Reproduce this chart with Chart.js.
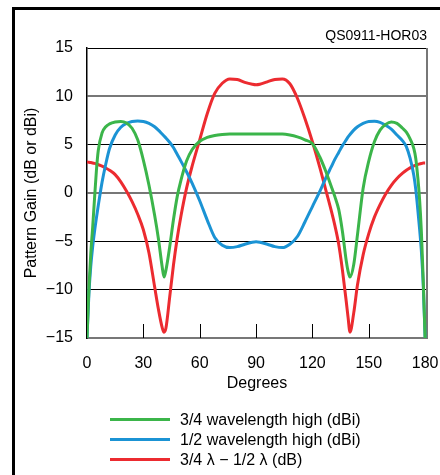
<!DOCTYPE html>
<html>
<head>
<meta charset="utf-8">
<script src="https://cdn.jsdelivr.net/npm/chart.js@4"></script>
<style>
  html, body { margin: 0; padding: 0; background: #fff; overflow: hidden; }
  #wrap { position: relative; width: 440px; height: 475px; }
  #frame { position: absolute; left: 12px; top: 7px; width: 470px; height: 500px; border: 3px solid #000; box-sizing: border-box; }
  canvas { position: absolute; left: 0; top: 0; }
</style>
</head>
<body>
<div id="wrap">
  <div id="frame"></div>
  <canvas id="chart" width="440" height="475"></canvas>
</div>
<script>
// elevation angle, degrees
const DEGREES = [
  0, 1, 2, 3, 4, 5, 6, 8, 10, 12, 15, 18, 21, 24, 27, 30, 33, 36, 38, 40, 41, 42, 44, 46, 48, 50,
  53, 56, 60, 64, 68, 72, 76, 80, 84, 88,
  90, 92, 96, 100, 104, 108, 112, 116, 120, 124,
  127, 130, 132, 134, 136, 138, 139, 140, 142, 144,
  147, 150, 153, 156, 159, 162, 165, 168, 170, 172,
  174, 175, 176, 177, 178, 179, 180,
];

// 3/4 wavelength high (dBi)
const GAIN_34 = [
  -15, -10, -6.3, -3.6, -0.6, 2.3, 4.4, 6.2, 6.85, 7.15, 7.35, 7.4, 7.25, 6.7, 5.5, 3.4, 0.8, -2.3, -4.7, -7.6, -8.7, -8.0, -5.6, -2.8, -0.4, 1.3,
  3.3, 4.5, 5.35, 5.75, 5.95, 6.05, 6.1, 6.1, 6.1, 6.1,
  6.1, 6.1, 6.1, 6.1, 6.1, 6.0, 5.8, 5.5, 5.1, 3.7,
  2.3, 0.7, -0.4, -1.7, -4.0, -7.0, -8.1, -8.7, -7.4, -4.3,
  0.5, 3.3, 5.3, 6.5, 7.1, 7.35, 7.2, 6.7, 6.3, 5.6,
  4.6, 3.6, 1.8, -0.5, -4.0, -9.0, -15,
];

// 1/2 wavelength high (dBi)
const GAIN_12 = [
  -15, -10.5, -7.6, -5.6, -4.0, -2.6, -1.3, 1.1, 3.0, 4.6, 6.0, 6.8, 7.2, 7.4, 7.45, 7.4, 7.2, 6.85, 6.5, 6.1, 5.9, 5.7, 5.25, 4.7, 4.0, 3.3,
  2.2, 1.0, -0.8, -2.8, -4.6, -5.4, -5.65, -5.55, -5.3, -5.1,
  -5.05, -5.1, -5.3, -5.55, -5.65, -5.3, -4.5, -3.0, -1.4, 0.2,
  1.5, 2.7, 3.5, 4.2, 4.9, 5.5, 5.8, 6.05, 6.5, 6.85,
  7.2, 7.4, 7.42, 7.3, 7.0, 6.6, 6.0, 5.4, 4.8, 3.6,
  1.8, 0.4, -1.5, -3.6, -6.0, -9.5, -15,
];

// 3/4 λ − 1/2 λ (dB)
const GAIN_DIFF = [
  3.2, 3.18, 3.15, 3.11, 3.06, 3.0, 2.93, 2.78, 2.58, 2.35, 1.9, 1.15, 0.2, -0.9, -2.2, -3.8, -6.2, -9.7, -12.0, -13.9, -14.4, -14.0, -10.8, -7.5, -4.7, -2.4,
  0.5, 2.8, 5.5, 8.2, 10.3, 11.35, 11.8, 11.75, 11.45, 11.25,
  11.2, 11.25, 11.5, 11.75, 11.8, 11.3, 9.8, 7.7, 5.3, 2.6,
  0.4, -1.8, -3.4, -5.3, -8.0, -11.2, -12.9, -14.4, -12.4, -9.5,
  -6.4, -4.2, -2.5, -1.2, -0.1, 0.8, 1.5, 2.05, 2.35, 2.6,
  2.8, 2.88, 2.95, 3.0, 3.05, 3.1, 3.1,
];

const SERIES_LABELS = ["3/4 wavelength high (dBi)", "1/2 wavelength high (dBi)", "3/4 \u03bb \u2212 1/2 \u03bb (dB)"];
const X_TICKS = [0, 30, 60, 90, 120, 150, 180];
const Y_TICKS = [-15, -10, -5, 0, 5, 10, 15];

const COLORS = ["#3bb54a", "#1b93d4", "#ec2b30"];
const FONT = "'Liberation Sans', Arial, sans-serif";

function toPoints(values) {
  return DEGREES.map((d, i) => ({ x: d, y: values[i] }));
}

function minusLabel(v) {
  return v < 0 ? "\u2212" + Math.abs(v) : String(v);
}

// title, right border, inner tick marks and legend
const decor = {
  id: "decor",
  beforeDatasetsDraw(chart) {
    const { ctx, chartArea: a, scales } = chart;
    ctx.save();
    ctx.strokeStyle = "#000";
    ctx.lineWidth = 1;
    X_TICKS.slice(1, -1).forEach((v) => {
      const x = Math.round(scales.x.getPixelForValue(v)) + 0.5;
      ctx.beginPath();
      ctx.moveTo(x, a.bottom);
      ctx.lineTo(x, a.bottom - 14);
      ctx.stroke();
    });
    ctx.strokeStyle = "#777";
    ctx.lineWidth = 2;
    ctx.beginPath();
    ctx.moveTo(a.right, a.top);
    ctx.lineTo(a.right, a.bottom);
    ctx.stroke();
    ctx.restore();
  },
  afterDraw(chart) {
    const { ctx, chartArea: a } = chart;
    ctx.save();
    ctx.fillStyle = "#000";
    ctx.font = "14px " + FONT;
    ctx.textAlign = "right";
    ctx.textBaseline = "middle";
    ctx.fillText("QS0911-HOR03", a.right, 36);

    ctx.font = "16px " + FONT;
    ctx.textAlign = "left";
    chart.data.datasets.forEach((ds, i) => {
      const y = 419.5 + i * 20;
      ctx.strokeStyle = ds.borderColor;
      ctx.lineWidth = 3;
      ctx.beginPath();
      ctx.moveTo(110, y);
      ctx.lineTo(170, y);
      ctx.stroke();
      ctx.fillText(ds.label, 180, y + 1);
    });
    ctx.restore();
  },
};

Chart.defaults.font.family = FONT;
Chart.defaults.color = "#000";

new Chart(document.getElementById("chart"), {
  type: "line",
  data: {
    datasets: [GAIN_34, GAIN_12, GAIN_DIFF].map((vals, i) => ({
      label: SERIES_LABELS[i],
      data: toPoints(vals),
      borderColor: COLORS[i],
      backgroundColor: COLORS[i],
      borderWidth: 3,
      pointRadius: 0,
      cubicInterpolationMode: "monotone",
      fill: false,
    })),
  },
  options: {
    responsive: false,
    animation: false,
    layout: { padding: { top: 48, right: 13, bottom: 77, left: 0 } },
    plugins: { legend: { display: false }, tooltip: { enabled: false } },
    scales: {
      x: {
        type: "linear",
        min: 0,
        max: 181,
        afterBuildTicks: (s) => { s.ticks = X_TICKS.map((v) => ({ value: v })); },
        afterFit: (s) => { s.height = 60; s.paddingLeft = 0; s.paddingRight = 0; },
        grid: { display: false },
        border: { display: true, color: "#777", width: 2 },
        ticks: { padding: 8, font: { size: 16 }, maxRotation: 0, autoSkip: false },
        title: { display: true, text: "Degrees", font: { size: 16 }, padding: { top: 0, bottom: 5 } },
      },
      y: {
        min: -15,
        max: 15,
        afterBuildTicks: (s) => { s.ticks = Y_TICKS.map((v) => ({ value: v })); },
        afterFit: (s) => { s.width = 87; s.paddingTop = 0; s.paddingBottom = 0; },
        grid: {
          drawTicks: false,
          color: (c) => ([10, 0, -15].includes(c.tick && c.tick.value) ? "#777" : "#000"),
          lineWidth: (c) => ([10, 0, -15].includes(c.tick && c.tick.value) ? 2 : 1),
        },
        border: { display: true, color: "#000", width: 1.5 },
        ticks: { padding: 14, font: { size: 16 }, callback: minusLabel },
        title: { display: true, text: "Pattern Gain (dB or dBi)", font: { size: 16 }, padding: { top: 22, bottom: 0 } },
      },
    },
  },
  plugins: [decor],
});
</script>
</body>
</html>
